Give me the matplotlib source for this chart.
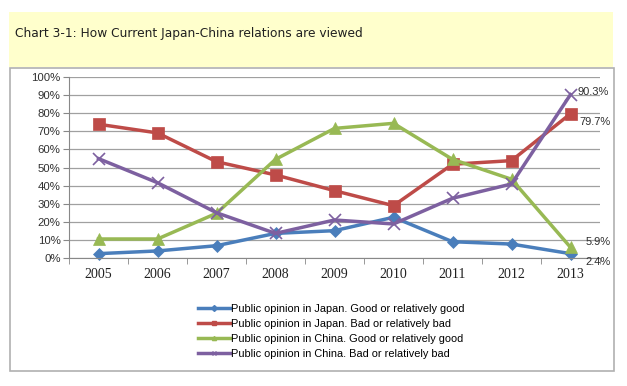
import matplotlib.pyplot as plt
from matplotlib.patches import Rectangle
from matplotlib.lines import Line2D

years = ["2005", "2006", "2007", "2008", "2009", "2010", "2011", "2012", "2013"]
japan_good = [2.4, 3.9, 6.8, 13.6, 15.1, 22.5, 9.0, 7.7, 2.4]
japan_bad = [73.9, 69.1, 53.2, 45.9, 37.2, 28.9, 51.8, 53.8, 79.7]
china_good = [10.5, 10.5, 24.7, 54.5, 71.6, 74.4, 54.5, 43.5, 5.9]
china_bad = [54.9, 41.6, 25.0, 13.6, 21.0, 18.8, 33.0, 40.9, 90.3]
names = ["Public opinion in Japan. Good or relatively good",
         "Public opinion in Japan. Bad or relatively bad",
         "Public opinion in China. Good or relatively good",
         "Public opinion in China. Bad or relatively bad"]
end_labels = ["2.4%", "79.7%", "5.9%", "90.3%"]

series = [japan_good, japan_bad, china_good, china_bad]
colors = ["#4a7ebb", "#be4b48", "#98b954", "#7d60a0"]
markers = ["D", "s", "^", "x"]
msizes = [6, 8, 8, 8]

fig = plt.figure(figsize=(6.27, 3.86), dpi=100)
W, H = 627, 386

# yellow title band and chart box
fig.patches.append(Rectangle((9 / W, 1 - 67 / H), 604 / W, 55 / H,
                             transform=fig.transFigure, facecolor="#ffffcc",
                             edgecolor="none", zorder=0))
fig.patches.append(Rectangle((10 / W, 1 - 371 / H), 604 / W, 303 / H,
                             transform=fig.transFigure, facecolor="white",
                             edgecolor="#b0b0b0", linewidth=1.2, zorder=1))
fig.text(15 / W, 1 - 34 / H, "Chart 3-1: How Current Japan-China relations are viewed",
         fontsize=8.8, va="center", ha="left", family="DejaVu Sans", color="#202020")

ax = fig.add_axes([69 / W, 1 - 258 / H, 531 / W, 181 / H])
ax.set_zorder(2)
ax.patch.set_alpha(0)
x = list(range(len(years)))
for s, c, m, ms, n in zip(series, colors, markers, msizes, names):
    ax.plot(x, s, color=c, marker=m, markersize=ms, linewidth=2.5, label=n,
            markeredgewidth=1.2 if m == "x" else 0.5, clip_on=False)

ax.set_xlim(-0.5, len(years) - 0.5)
ax.set_ylim(0, 100)
ax.set_yticks(range(0, 101, 10))
ax.set_yticklabels([f"{v}%" for v in range(0, 101, 10)], fontsize=8.2,
                   family="Liberation Sans", color="#303030")
ax.set_xticks(x)
ax.set_xticklabels(years, fontsize=10, family="Liberation Serif", color="#202020")
ax.set_xticks([i - 0.5 for i in range(len(years) + 1)], minor=True)
ax.tick_params(axis="x", which="major", length=0, pad=7)
ax.tick_params(axis="x", which="minor", length=4, color="#888888")
ax.tick_params(axis="y", length=4, color="#888888", pad=2)
ax.grid(axis="y", color="#a0a0a0", linewidth=0.9)
ax.set_axisbelow(True)
for sp in ["top", "right"]:
    ax.spines[sp].set_visible(False)
ax.spines["left"].set_color("#888888")
ax.spines["bottom"].set_color("#888888")

# end value labels
offsets = [(0.25, -4.4), (0.15, -4.8), (0.25, 2.9), (0.12, 1.6)]
for s, lab, (dx, dy) in zip(series, end_labels, offsets):
    ax.text(x[-1] + dx, s[-1] + dy, lab, fontsize=8, family="Liberation Sans",
            va="center", ha="left", color="#303030", clip_on=False)

handles = [Line2D([], [], color=c, marker=m, markersize=3, linewidth=2.5)
           for c, m in zip(colors, markers)]
fig.legend(handles, names, loc="upper left", bbox_to_anchor=(188 / W, 1 - 294 / H),
           frameon=False, handlelength=2.9, handletextpad=0.1,
           labelspacing=0.45, prop={"family": "Liberation Sans", "size": 7.9})

fig.savefig("out.png", dpi=100)
